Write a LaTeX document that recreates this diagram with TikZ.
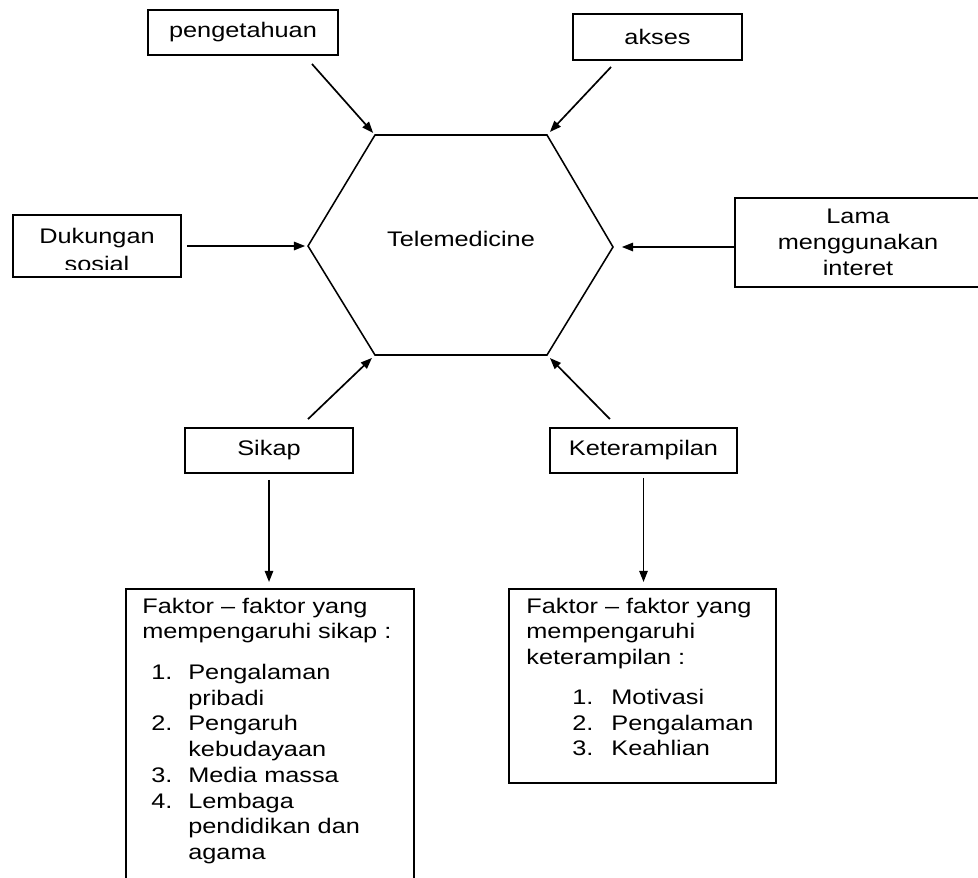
\documentclass[tikz,border=0pt]{standalone}
\usepackage{fontspec}
\setmainfont[FakeStretch=1.2]{Liberation Sans}
\usetikzlibrary{arrows.meta,positioning}

% numbered line: indent, width of number column, number
\newcommand{\nitem}[3]{\hspace*{#1}\makebox[#2][l]{#3}}

\begin{document}
\begin{tikzpicture}[
  x=0.025cm, y=-0.025cm,
  font=\fontsize{15}{18.3}\selectfont,
  box/.style={draw, line width=1.3pt, align=center, inner sep=0pt},
  arrow/.style={-{Triangle[length=8pt, width=6pt]}, line width=1.2pt},
  listtext/.style={align=left, inner sep=0pt}
]
\clip (0,0) rectangle (978,877);

% hexagon
\coordinate (tl) at (375,135);
\coordinate (tr) at (547,135);
\coordinate (r) at (613,247);
\coordinate (br) at (547,355);
\coordinate (bl) at (375,355);
\coordinate (l) at (308,246);
\draw[line width=1.1pt] (tl) -- (tr) -- (r) -- (br) -- (bl) -- (l) -- cycle;
\node (tele) at (461,239) {Telemedicine};

% factors
\node[box, minimum width=4.75cm, minimum height=1.125cm] (peng) at (243,32.5) {pengetahuan};
\node[box, minimum width=4.225cm, minimum height=1.15cm] (akses) at (657.5,37) {akses};
\node[box, minimum width=4.2cm, minimum height=1.55cm] (dukungan) at (97,246) {};
\begin{scope}
  \clip ([yshift=0.2cm]dukungan.south west) rectangle (dukungan.north east);
  \node[align=center] (dukungantext) at ([yshift=-0.09cm]dukungan.center) {Dukungan\\[1.5pt]sosial};
\end{scope}
\node[box, minimum width=6.15cm, minimum height=2.225cm] (lama) at (858,242.5) {Lama\\menggunakan\\interet};
\node[box, minimum width=4.2cm, minimum height=1.125cm] (sikap) at (269,450.5) {Sikap};
\node[box, minimum width=4.675cm, minimum height=1.125cm] (keter) at (643.5,450.5) {Keterampilan};

% lists
\node[box, minimum width=7.2cm, minimum height=8cm, anchor=north] (fsikap) at (270,588) {};
\node[listtext, below right=0.24cm and 0.425cm of fsikap.north west] (fsikaplist) {%
Faktor – faktor yang\\
mempengaruhi sikap :\\[10.5pt]
\nitem{6.4pt}{26.3pt}{1.}Pengalaman\\
\hspace*{32.7pt}pribadi\\
\nitem{6.4pt}{26.3pt}{2.}Pengaruh\\
\hspace*{32.7pt}kebudayaan\\
\nitem{6.4pt}{26.3pt}{3.}Media massa\\
\nitem{6.4pt}{26.3pt}{4.}Lembaga\\
\hspace*{32.7pt}pendidikan dan\\
\hspace*{32.7pt}agama};

\node[box, minimum width=6.675cm, minimum height=4.85cm, anchor=north] (fketer) at (642.5,588) {};
\node[listtext, below right=0.24cm and 0.45cm of fketer.north west] (fketerlist) {%
Faktor – faktor yang\\
mempengaruhi\\
keterampilan :\\[10pt]
\nitem{32.7pt}{27.8pt}{1.}Motivasi\\
\nitem{32.7pt}{27.8pt}{2.}Pengalaman\\
\nitem{32.7pt}{27.8pt}{3.}Keahlian};

% arrows
\draw[arrow, shorten >=2pt] ([xshift=-0.675cm, yshift=-0.2cm]peng.south east) -- (tl);
\draw[arrow, shorten >=3pt] ([xshift=0.975cm, yshift=-0.15cm]akses.south west) -- (tr);
\draw[arrow, shorten <=0.125cm, shorten >=2pt] (dukungan.east |- l) -- (l);
\draw[arrow, shorten >=0.22cm] (lama.west |- r) -- (r);
\draw[arrow, shorten >=3pt] ([xshift=0.975cm, yshift=0.2cm]sikap.north) -- (bl);
\draw[arrow, shorten >=3pt] ([xshift=-0.84cm, yshift=0.2cm]keter.north) -- (br);
\draw[arrow, shorten <=0.15cm, shorten >=0.15cm] (sikap.south) -- (sikap.south |- fsikap.north);
\draw[arrow, shorten <=0.1cm, shorten >=0.15cm] (keter.south) -- (keter.south |- fketer.north);
\end{tikzpicture}
\end{document}
